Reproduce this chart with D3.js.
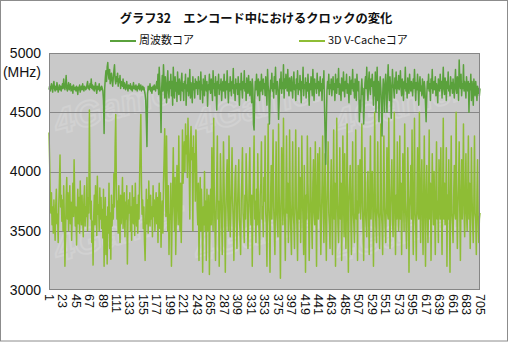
<!DOCTYPE html>
<html>
<head>
<meta charset="utf-8">
<script src="https://cdn.jsdelivr.net/npm/d3@7"></script>
<style>
  html, body { margin: 0; padding: 0; background: #fff; }
  svg { display: block; }
</style>
</head>
<body>
<svg id="chart" width="511" height="342"></svg>
<script>
// Chart text
const titleText = "グラフ32　エンコード中におけるクロックの変化";
const seriesNames = ["周波数コア", "3D V-Cacheコア"];
const unitLabel = "(MHz)";

// Y axis ticks (MHz)
const yTicks = [3000, 3500, 4000, 4500, 5000];

// X axis tick labels (sample number)
const xTickLabels = [1, 23, 45, 67, 89, 111, 133, 155, 177, 199, 221, 243, 265, 287, 309, 331,
  353, 375, 397, 419, 441, 463, 485, 507, 529, 551, 573, 595, 617, 639, 661, 683, 705];

// Clock of the frequency cores (MHz), samples 1..705
const freqCore = [
  4690,4720,4680,4710,4740,4700,4670,4730,4760,4700,4680,4720,4690,4750,4710,4670,4700,4730,4690,4720,4680,4710,
  4740,4700,4780,4720,4690,4730,4810,4700,4680,4720,4750,4690,4710,4740,4680,4700,4720,4660,4730,4700,4690,4710,
  4680,4720,4700,4650,4710,4690,4730,4670,4700,4720,4690,4740,4700,4680,4720,4710,4690,4700,4730,4760,4700,4720,
  4690,4740,4710,4780,4700,4730,4690,4720,4680,4710,4750,4700,4660,4720,4690,4700,4740,4680,4710,4690,4720,4700,
  4680,4600,4320,4700,4790,4850,4760,4880,4920,4820,4780,4860,4740,4800,4830,4760,4720,4790,4850,4900,4780,4740,
  4800,4760,4830,4720,4780,4750,4810,4700,4760,4740,4720,4780,4700,4750,4730,4690,4720,4760,4700,4680,4730,4710,
  4700,4740,4690,4720,4680,4710,4750,4700,4720,4690,4730,4700,4680,4720,4700,4740,4690,4710,4730,4680,4700,4720,
  4690,4710,4680,4650,4600,4420,4210,4650,4720,4690,4700,4740,4680,4710,4660,4700,4720,4690,4730,4700,4680,4720,
  4760,4700,4820,4650,4880,4740,4600,4330,4700,4810,4680,4900,4760,4620,4800,4700,4580,4750,4850,4690,4620,4760,
  4700,4820,4640,4760,4560,4880,4700,4620,4800,4680,4750,4590,4840,4700,4650,4780,4720,4600,4760,4830,4680,4740,
  4600,4760,4700,4820,4560,4730,4680,4790,4640,4700,4860,4620,4750,4700,4580,4800,4690,4740,4620,4780,4700,4760,
  4720,4650,4800,4700,4760,4610,4840,4690,4730,4580,4780,4700,4640,4810,4720,4680,4760,4550,4730,4690,4820,4700,
  4660,4780,4720,4600,4850,4700,4740,4640,4800,4680,4520,4760,4700,4820,4650,4730,4690,4780,4600,4710,4760,4680,
  4820,4700,4620,4760,4690,4850,4720,4580,4740,4680,4800,4710,4640,4760,4700,4870,4660,4730,4600,4780,4700,4740,
  4650,4800,4720,4560,4740,4690,4830,4700,4620,4760,4700,4850,4680,4740,4600,4790,4700,4660,4810,4720,4640,4760,
  4700,4580,4780,4700,4400,4350,4620,4760,4690,4820,4700,4640,4780,4720,4600,4760,4680,4820,4710,4650,4780,4700,
  4740,4640,4800,4700,4560,4860,4720,4680,4400,4620,4770,4700,4830,4680,4740,4620,4800,4700,4880,4650,4720,4760,
  4690,4440,4600,4780,4700,4840,4660,4750,4700,4900,4620,4780,4700,4820,4740,4680,4860,4700,4640,4790,4720,4680,
  4800,4700,4620,4760,4840,4690,4730,4600,4780,4700,4850,4650,4740,4690,4810,4720,4580,4760,4700,4880,4640,4730,
  4700,4790,4620,4750,4680,4820,4700,4560,4740,4690,4800,4720,4640,4860,4700,4600,4780,4700,4740,4660,4830,4700,
  4760,4640,4720,4800,4680,4740,4600,4780,4700,4850,4560,4300,4060,4400,4680,4760,4700,4820,4650,4730,4700,4780,
  4640,4720,4800,4690,4740,4600,4820,4700,4660,4780,4710,4870,4650,4740,4700,4600,4790,4720,4680,4840,4700,4630,
  4760,4700,4820,4660,4740,4700,4580,4800,4720,4650,4770,4700,4860,4680,4740,4620,4780,4700,4600,4820,4710,4680,
  4760,4420,4600,4500,4700,4780,4650,4700,4400,4560,4740,4800,4700,4880,4690,4600,4760,4840,4700,4650,4780,4720,
  4820,4700,4560,4760,4640,4840,4500,4700,4880,4600,4760,4420,4680,4800,4700,4560,4300,4640,4780,4700,4500,4740,
  4820,4680,4500,4760,4900,4700,4600,4800,4720,4450,4650,4860,4740,4700,4620,4790,4700,4840,4660,4760,4700,4810,
  4690,4740,4850,4700,4640,4780,4720,4600,4760,4700,4880,4680,4740,4620,4790,4700,4660,4820,4720,4680,4760,4700,
  4640,4780,4700,4860,4720,4600,4750,4690,4820,4700,4560,4740,4800,4680,4720,4640,4780,4700,4620,4760,4700,4560,
  4420,4640,4760,4700,4820,4680,4740,4600,4780,4700,4860,4660,4720,4760,4690,4800,4640,4740,4700,4580,4780,4720,
  4680,4820,4700,4760,4620,4740,4880,4700,4650,4790,4720,4600,4760,4700,4840,4680,4720,4640,4800,4700,4750,4660,
  4780,4700,4620,4740,4860,4700,4660,4800,4720,4600,4940,4760,4700,4820,4640,4740,4700,4900,4680,4760,4700,4620,
  4800,4720,4680,4760,4500,4740,4690,4820,4600,4760,4700,4560,4780,4700,4640,4760,4690,4600,4720,4660,4700,4640,
  4700
];

// Clock of the 3D V-Cache cores (MHz), samples 1..705
const vcacheCore = [
  4330,4100,3800,3650,3820,3550,3700,3480,3760,3600,3420,3700,3850,3560,3640,3400,3720,3900,4140,3700,3800,3580,
  3760,3500,3880,3620,3200,3450,3780,3950,3600,3820,3500,3700,3880,3560,3740,3420,3660,3900,3620,4100,3780,3540,
  3700,3380,3620,3850,3560,3780,3480,3920,3660,3550,3800,3600,3450,3760,3880,3540,3700,3620,3950,3500,3780,3650,
  4520,3900,3600,3750,3400,3580,3210,3620,3800,3550,3880,3700,3460,3960,3640,3720,3500,3860,3600,3780,3520,3680,
  3440,3850,3200,3560,3780,3300,3620,3220,3700,3480,3900,3350,3650,3260,3800,3540,3720,3600,3980,3700,4200,4480,
  3900,3600,3750,3480,3880,3620,3400,3800,3560,3700,3950,3520,3660,3820,3450,3740,3600,3880,3220,3580,3760,3650,
  3820,3500,3700,3420,3880,3620,3560,3780,3460,3900,3660,3540,3720,3480,3800,3600,3950,4250,4480,3900,3640,3760,
  3520,3700,3400,3250,3600,3850,3560,3760,3480,3920,3640,3540,3800,3600,3700,3450,3880,3620,3760,3500,3680,3820,
  3560,3780,3400,3700,3900,3520,3820,3360,3640,3750,3480,3900,4100,4360,3950,3620,4300,3800,3500,3880,3300,3640,
  3600,3900,3200,3550,3850,4200,3700,3500,3950,3300,3650,4050,3800,3550,4300,3700,3500,3900,3400,3750,4350,3900,
  4100,4250,4000,4400,4150,4300,3950,4450,4200,4050,3600,4250,4380,4100,4200,3500,4300,4000,4150,3750,4350,4050,
  3700,3550,3900,3250,3650,3950,3500,3850,3650,3150,3700,3550,4000,3500,3750,3250,3850,3600,3500,3800,3130,3600,
  3850,3550,4200,3700,3500,4450,3800,3550,3250,3650,3950,4300,3600,3750,3200,3550,4150,3850,3600,3300,3700,4250,
  3900,3600,3150,3650,3950,4100,3700,3500,4300,3800,3450,3650,3900,4200,3750,3550,3250,3700,3950,4050,3600,3350,
  3700,3900,4100,3600,3500,3300,3750,3950,4200,3650,3550,3400,3800,3600,4150,3900,3700,3350,3600,3950,4200,3700,
  3550,3800,3200,3700,3950,4300,3600,3750,3400,3850,3550,4150,3700,3500,3300,3800,3900,4250,3600,3700,3450,3950,
  3750,4300,3650,3550,3200,3850,4400,3700,3550,3150,3800,4050,3600,3900,4350,3700,3500,3300,3800,4250,3650,3550,
  3450,4400,3800,3600,3100,3700,4200,3900,3550,4450,3700,3600,3250,3800,4300,3650,3900,3400,3600,4350,3750,3500,
  3300,3800,4250,3650,3550,3350,3900,4350,3700,3550,3250,3800,4200,3600,3950,3400,3700,4300,3800,3550,3300,4050,
  3700,3150,3800,3600,4300,3900,3650,3250,3600,4200,3800,3550,3350,3900,4100,3650,3550,4250,3750,3200,3800,4150,
  3600,3850,4200,3650,3300,3600,3900,4300,3700,3400,3800,4150,3600,3250,3700,3950,4250,3650,3550,3350,3800,4100,
  3650,3300,3800,4350,3600,3900,3200,3700,4450,3800,3550,3400,3750,4200,3600,3900,3250,3650,4300,3800,3450,4150,
  3700,3350,3800,4400,3600,3150,3750,3900,4050,3600,3300,3800,4250,3650,3550,3400,3800,4350,3600,3750,3250,4050,
  3650,3850,4100,3600,3900,4400,3700,3500,3250,3800,4200,3650,3550,3450,3900,4000,3650,3300,3800,4300,3600,3850,
  4000,3650,3200,3800,4500,3700,3550,3400,3850,4250,3650,3600,3350,3800,4400,3650,3550,3300,3850,4300,3700,3550,
  3400,3800,4200,3650,3600,4450,3750,3350,3700,3900,4100,3600,3450,3800,4500,3650,3300,3800,3600,4250,3750,3500,
  3650,4300,3600,3900,3300,3700,4150,3800,3500,4400,3750,3600,3350,3650,4200,3900,3150,3700,3800,4050,3600,4350,
  3700,3300,3800,4450,3650,3550,3250,3800,4200,3650,3600,4500,3750,3400,3900,4100,3600,3300,3800,4300,3650,3200,
  3800,4050,3650,3400,3750,4350,3600,3900,3250,3650,4150,3800,3550,4000,3650,3300,3850,4250,3600,3750,3400,4100,
  3800,3600,4200,3650,3300,3800,4450,3600,3900,3550,3700,4200,3200,3800,3600,4100,3650,3150,3800,4300,3650,3550,
  3400,3800,4050,3650,3600,4500,3750,3350,3700,3900,4250,3650,3250,3800,4100,3600,3850,4400,3650,3450,3800,4150,
  3650,3500,3800,4300,3600,3900,3350,3650,4200,3800,3550,3400,3750,4300,3650,3600,3300,3800,4100,3600,3400,3600,
  3650
];

const colors = { freq: "#5aa13c", vcache: "#8ebd35" };

const W = 511, H = 342;
const plot = { left: 49, right: 480, top: 53, bottom: 290 };

const svg = d3.select("#chart");

// Outer frame
svg.append("rect")
  .attr("x", 0.5).attr("y", 0.5)
  .attr("width", W - 4).attr("height", H - 1.5)
  .attr("fill", "#fff").attr("stroke", "#8c8c8c");

const x = d3.scaleLinear().domain([1, 705]).range([plot.left, plot.right]);
const y = d3.scaleLinear().domain([3000, 5000]).range([plot.bottom, plot.top]);

// Plot background
svg.append("rect")
  .attr("x", plot.left).attr("y", plot.top)
  .attr("width", plot.right - plot.left).attr("height", plot.bottom - plot.top)
  .attr("fill", "#c9c9c9");

// Faint watermark logos, kept fully inside the plot area
const wm = svg.append("g");
const wmSpots = [[58, 135], [198, 135], [338, 135], [58, 262], [198, 262], [338, 262]];
wmSpots.forEach(([wx, wy]) => {
  wm.append("text")
    .attr("transform", `translate(${wx},${wy}) rotate(-16)`)
    .attr("font-family", "Liberation Sans, Arial, sans-serif")
    .attr("font-weight", "bold")
    .attr("font-style", "italic")
    .attr("font-size", 36)
    .attr("fill", "none")
    .attr("stroke", "#d1d1d1")
    .attr("stroke-width", 2)
    .text("4Gamer");
});

// Horizontal gridlines
svg.append("g")
  .selectAll("line")
  .data(yTicks.filter(t => t > 3000 && t < 5000))
  .join("line")
  .attr("x1", plot.left).attr("x2", plot.right)
  .attr("y1", d => Math.round(y(d)) + 0.5).attr("y2", d => Math.round(y(d)) + 0.5)
  .attr("stroke", "#878787").attr("stroke-width", 1);

// Series lines
const line = d3.line()
  .x((d, i) => x(i + 1))
  .y(d => y(d));

svg.append("path")
  .datum(vcacheCore)
  .attr("d", line)
  .attr("fill", "none")
  .attr("stroke", colors.vcache)
  .attr("stroke-width", 1.5)
  .attr("stroke-linejoin", "round");

svg.append("path")
  .datum(freqCore)
  .attr("d", line)
  .attr("fill", "none")
  .attr("stroke", colors.freq)
  .attr("stroke-width", 1.5)
  .attr("stroke-linejoin", "round");

// Plot border
svg.append("rect")
  .attr("x", plot.left + 0.5).attr("y", plot.top + 0.5)
  .attr("width", plot.right - plot.left - 1).attr("height", plot.bottom - plot.top - 1)
  .attr("fill", "none").attr("stroke", "#868686");

// Y axis labels
const yAxis = d3.axisLeft(y).tickValues(yTicks).tickFormat(d3.format("d")).tickSize(0).tickPadding(8);
const yG = svg.append("g").attr("transform", `translate(${plot.left},0)`).call(yAxis);
yG.select(".domain").remove();
yG.selectAll("text")
  .attr("font-family", "Liberation Sans, Arial, sans-serif")
  .attr("font-size", 14)
  .attr("fill", "#111");

svg.append("text")
  .attr("x", 41).attr("y", 73)
  .attr("text-anchor", "end")
  .attr("dominant-baseline", "middle")
  .attr("font-family", "Liberation Sans, Arial, sans-serif")
  .attr("font-size", 14)
  .attr("fill", "#111")
  .text(unitLabel);

// X axis labels, rotated
svg.append("g")
  .selectAll("text")
  .data(xTickLabels)
  .join("text")
  .attr("transform", d => `translate(${x(d)},294) rotate(90)`)
  .attr("dy", "0.35em")
  .attr("text-anchor", "start")
  .attr("font-family", "Liberation Sans, Arial, sans-serif")
  .attr("font-size", 12.5)
  .attr("fill", "#111")
  .text(d => d);

// Title
svg.append("text")
  .attr("x", 256).attr("y", 20)
  .attr("text-anchor", "middle")
  .attr("dominant-baseline", "middle")
  .attr("font-family", "Noto Sans CJK JP, sans-serif")
  .attr("font-weight", "bold")
  .attr("font-size", 12.3)
  .attr("fill", "#111")
  .text(titleText);

// Legend
const legend = [
  { name: seriesNames[0], color: colors.freq, x: 110 },
  { name: seriesNames[1], color: colors.vcache, x: 299 }
];
const lg = svg.append("g").selectAll("g").data(legend).join("g");
lg.append("line")
  .attr("x1", d => d.x).attr("x2", d => d.x + 26)
  .attr("y1", 41).attr("y2", 41)
  .attr("stroke", d => d.color).attr("stroke-width", 2);
lg.append("text")
  .attr("x", d => d.x + 29).attr("y", 41)
  .attr("dominant-baseline", "middle")
  .attr("font-family", "Noto Sans CJK JP, sans-serif")
  .attr("font-size", 11)
  .attr("fill", "#111")
  .text(d => d.name);
</script>
</body>
</html>
